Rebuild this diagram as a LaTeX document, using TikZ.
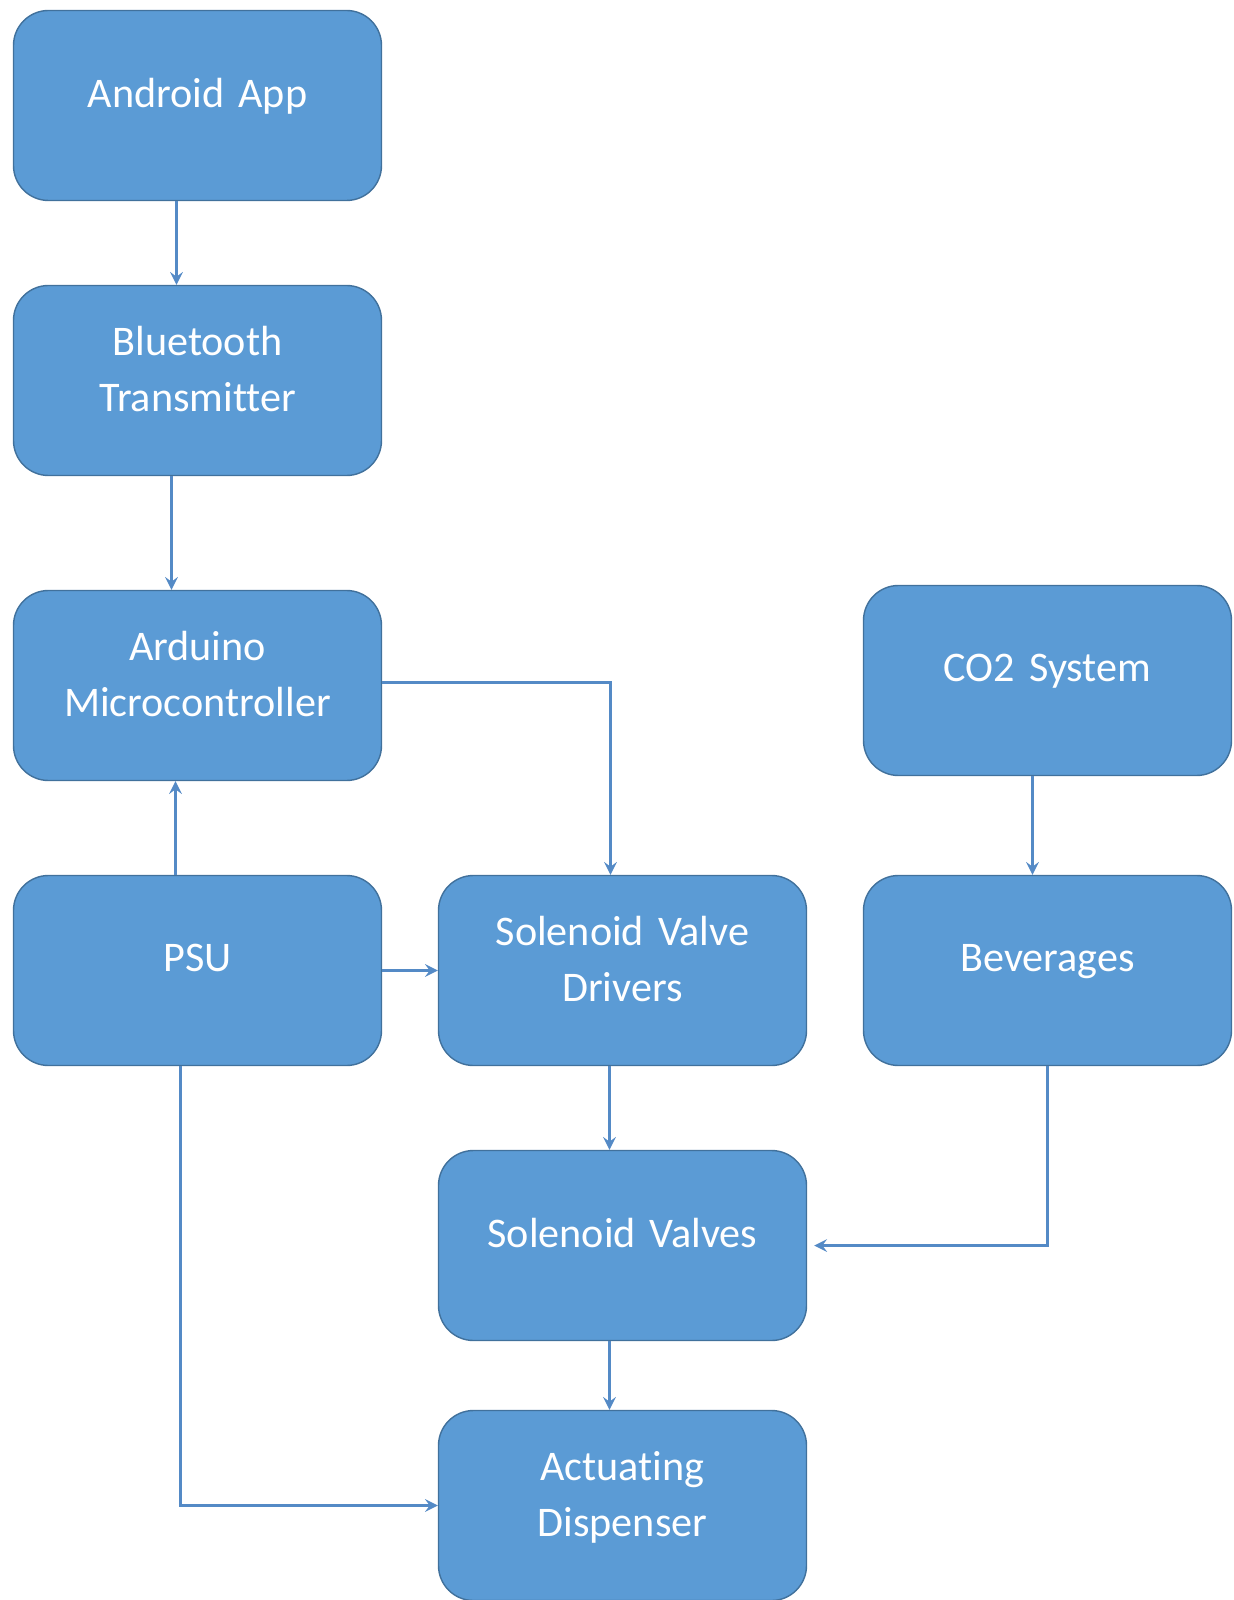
\documentclass[tikz,border=0pt]{standalone}
\usepackage{fontspec}
\setmainfont{Carlito}[Ligatures=NoCommon, WordSpace=0.85]
\usepackage{tikz}
\usetikzlibrary{shapes.geometric, arrows}
\definecolor{boxblue}{RGB}{91,155,213}
\definecolor{boxedge}{RGB}{65,113,156}
\definecolor{linkblue}{RGB}{84,138,198}
\tikzstyle{block} = [rectangle, rounded corners=0.35cm, minimum width=3.68cm, minimum height=1.9cm, text width=3.4cm, text depth=0.25cm, text centered, draw=boxedge, fill=boxblue, text=white, font=\fontsize{12}{16}\selectfont]
\tikzstyle{twoline} = [text depth=0.8cm]
\tikzstyle{arrow} = [line width=0.6pt, draw=linkblue, ->, >=stealth]
\begin{document}
\begin{tikzpicture}[node distance=2.75cm, auto]
				\useasboundingbox (-1.975,-14.945) rectangle (10.355,1.055);
				\node(app) [block] {Android App};
				\node(bt) [block, twoline, below of=app] {Bluetooth\\Transmitter};
				\node(ard) [block, twoline, below of=bt, yshift=-.3cm] {Arduino\\Microcontroller};
				\node(psu) [block, below of=ard, yshift=-.1cm] {PSU};
				
				\node(svd) [block, twoline, right of=psu, xshift=1.5cm] {Solenoid Valve\\Drivers};
				\node(bev) [block, right of=svd, xshift=1.5cm] {Beverages};
				\node(co2) [block, above of=bev, yshift=.15cm] {CO2 System};
				
				\node(sv) [block, below of=svd] {Solenoid Valves};
				\node(ad) [block, twoline, below of=sv, yshift=.15cm] {Actuating\\Dispenser};
				
				\draw[arrow] ([xshift=-.21cm]app.south) -- ([xshift=-.21cm]bt.north);
				\draw[arrow] ([xshift=-.26cm]bt.south) -- ([xshift=-.26cm]ard.north);
				\draw[arrow] ([xshift=-.22cm]psu.north) -- ([xshift=-.22cm]ard.south);
				\draw[arrow] ([yshift=.03cm]ard.east) -| ([xshift=-.12cm]svd.north);
				\draw[arrow] (psu) -- (svd);
				\draw[arrow] ([xshift=-.15cm]co2.south) -- ([xshift=-.15cm]bev.north);
				\draw[arrow] ([xshift=-.13cm]svd.south) -- ([xshift=-.13cm]sv.north);
				\draw[arrow, shorten >=2pt] (bev.south) |- (sv.east);
				\draw[arrow] ([xshift=-.13cm]sv.south) -- ([xshift=-.13cm]ad.north);
				\draw[arrow] ([xshift=-.17cm]psu.south) |- (ad.west);
				
			\end{tikzpicture}
\end{document}
